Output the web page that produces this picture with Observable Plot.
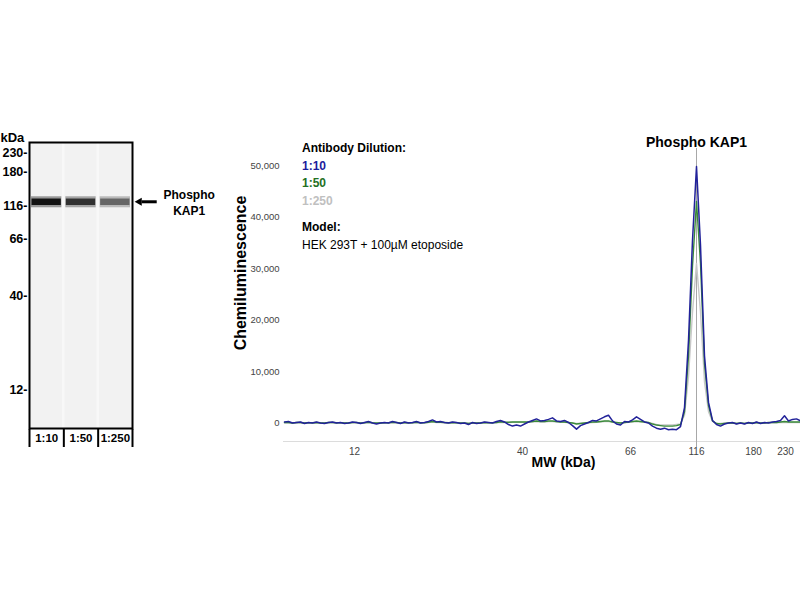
<!DOCTYPE html>
<html><head><meta charset="utf-8">
<script src="https://cdn.jsdelivr.net/npm/d3@7"></script>
<script src="https://cdn.jsdelivr.net/npm/@observablehq/plot@0.6"></script>
<style>
html,body{margin:0;padding:0;background:#fff;}
#root{position:relative;width:800px;height:600px;overflow:hidden;font-family:"Liberation Sans",Arial,sans-serif;}
#root > *{position:absolute;}
#legend{left:302px;top:140px;font-size:12px;line-height:17.7px;white-space:nowrap;color:#000;}
#legend .b{font-weight:bold;}
</style></head><body><div id="root"></div>
<script>
// ---------- data ----------
const target = "Phospho KAP1";
const dilutions = ["1:10", "1:50", "1:250"];
const peakSignal = [49800, 43000, 31000];          // peak heights per dilution
const gelMarkers = [230, 180, 116, 66, 40, 12];    // kDa marker labels (blot)
const bandMW = 123;                                // band apparent MW (kDa)
const ladderMW = [12, 40, 66, 116, 180, 230];      // MW axis ladder
const ladderPos = [17.5, 59.5, 86.5, 103, 117.25, 125.25]; // ladder position along capillary (sample units)
const yTicks = [0, 10000, 20000, 30000, 40000, 50000];
const modelText = "HEK 293T + 100µM etoposide";

const blue = [
  200,300,0,100,200,-100,100,0,200,0,
  -100,100,200,0,100,-100,0,200,100,-100,
  100,300,0,-200,0,100,0,300,100,-100,
  200,0,100,300,0,100,300,600,200,300,
  100,0,200,100,-100,0,-300,100,-100,0,
  200,100,0,300,500,200,-300,-600,-400,-600,
  -200,200,500,800,400,500,700,1000,400,300,
  500,100,-500,-1200,-500,-200,100,500,400,800,
  1200,1500,400,-200,-400,300,200,600,1200,700,
  200,0,-600,-1000,-1200,-1000,-1300,-1200,-1300,-700,
  3000,16000,35500,49800,34500,13000,4000,500,-300,-600,
  -200,0,100,-200,0,-200,100,-100,200,-100,
  100,0,200,300,500,1400,400,700,800,400
];
const green = [
  100,100,0,100,100,0,50,50,100,0,
  0,100,100,50,50,0,0,100,100,0,
  50,150,50,0,0,50,50,150,100,0,
  100,50,50,150,50,50,150,300,150,150,
  100,50,100,50,0,0,-100,0,0,0,
  100,50,50,100,250,150,150,200,200,200,
  200,200,300,400,300,300,400,400,300,200,
  200,100,0,-200,-100,0,100,200,200,300,
  400,400,200,100,0,100,200,300,400,300,
  200,100,-200,-400,-500,-600,-600,-600,-500,-300,
  2200,13000,30500,43000,31000,11500,3400,400,-100,-200,
  -100,0,0,-100,0,-100,0,0,100,0,
  0,100,100,100,200,300,200,200,200,200
];
const gray = [
  0,50,0,50,0,0,50,0,50,0,
  0,50,50,0,0,0,0,50,50,0,
  0,100,0,0,0,0,50,100,50,0,
  50,0,0,100,0,50,100,200,100,100,
  50,0,50,0,0,0,-50,0,0,0,
  50,0,50,50,150,100,100,150,150,150,
  150,150,200,300,200,200,300,300,200,150,
  150,50,0,-100,-50,0,50,100,150,200,
  300,300,150,50,0,50,150,200,300,200,
  150,50,-100,-300,-400,-400,-400,-400,-300,-200,
  1500,9000,21500,31000,21500,8000,2200,300,-100,-100,
  0,0,0,-50,0,-50,0,0,50,0,
  0,50,50,50,100,150,100,100,100,100
];

// ---------- styles ----------
const seriesColors = ["#22229a", "#3a8a3a", "#c8c8c8"];
const labelColors = ["#1c1c9c", "#237023", "#c0c0c0"];
const font = "'Liberation Sans', Arial, sans-serif";
const narrow = "'Liberation Sans Narrow', 'Arial Narrow', 'Liberation Sans', sans-serif";
const root = document.getElementById("root");
const place = (el, left, top) => { el.style.left = left + "px"; el.style.top = top + "px"; root.appendChild(el); };

// ---------- blot ----------
const gel = Plot.plot({
  width: 230, height: 430,
  marginLeft: 29, marginRight: 98, marginTop: 142, marginBottom: 2,
  style: {background: "transparent", fontFamily: font, overflow: "visible"},
  x: {domain: [0, 3], axis: null},
  y: {type: "linear", domain: [8, 12, 40, 66, 116, 180, 230, 260], range: [428, 389, 295, 238, 205, 171, 152, 142], axis: null},
  color: {type: "linear", domain: [0, 50000], range: ["#eeeeee", "#121212"]},
  marks: [
    Plot.frame({fill: "#f8f8f8", stroke: "none"}),
    Plot.rect(dilutions, {x1: (d, i) => i, x2: (d, i) => i + 1, y1: () => 8, y2: () => 260, insetLeft: 1.2, insetRight: 1.2, fill: "#f2f2f2"}),
    Plot.ruleY(dilutions, {y: () => bandMW, x1: (d, i) => i, x2: (d, i) => i + 1, insetLeft: 2, insetRight: 2, stroke: (d, i) => peakSignal[i], strokeWidth: 11, strokeOpacity: 0.4}),
    Plot.ruleY(dilutions, {y: () => bandMW, x1: (d, i) => i, x2: (d, i) => i + 1, insetLeft: 2.5, insetRight: 2.5, stroke: (d, i) => peakSignal[i], strokeWidth: 6.5}),
    Plot.frame({stroke: "#000", strokeWidth: 2}),
    Plot.axisY({ticks: gelMarkers, tickFormat: d => d + "-", tickSize: 0, tickPadding: 2, fontSize: 12.5, fontWeight: "bold", fill: "#000", label: null}),
    Plot.text(["kDa"], {frameAnchor: "top-left", dx: -29, dy: -10, textAnchor: "start", fontSize: 13, fontWeight: "bold", fill: "#000"}),
    Plot.ruleY([bandMW], {x1: () => 3.28, x2: () => 3.72, strokeWidth: 3, stroke: "#000"}),
    Plot.dot([bandMW], {x: () => 3.2, y: d => d, symbol: "triangle2", r: 3.9, rotate: -90, fill: "#000", stroke: "none"}),
    Plot.text([target], {x: () => 4.65, y: () => bandMW, text: d => d.replace(" ", "\n"), lineHeight: 1.35, fontSize: 12, fontWeight: "bold", fill: "#000"})
  ]
});
place(gel, 0, 0);

const laneRow = Plot.plot({
  width: 230, height: 18,
  marginLeft: 29, marginRight: 98, marginTop: 0, marginBottom: 0,
  style: {background: "transparent", fontFamily: font, overflow: "visible"},
  x: {domain: [0, 3], axis: null},
  marks: [
    Plot.ruleX([0, 1, 2, 3], {stroke: "#000", strokeWidth: 2}),
    Plot.text(dilutions, {x: (d, i) => i + 0.5, frameAnchor: "middle", text: d => d, fontSize: 11.5, fontWeight: "bold", fill: "#000"})
  ]
});
place(laneRow, 0, 429);

// ---------- electropherogram ----------
const yDomain = [-3592, 53300];
const mwAt = new Map(ladderPos.map((p, i) => [p, ladderMW[i]]));
const series = [gray, green, blue];
const seriesCol = [seriesColors[2], seriesColors[1], seriesColors[0]];
const chart = Plot.plot({
  width: 575, height: 360,
  marginLeft: 58, marginRight: 0, marginTop: 28, marginBottom: 39,
  style: {background: "transparent", fontFamily: font, overflow: "visible"},
  x: {domain: [-0.25, 129], axis: null},
  y: {domain: yDomain, axis: null},
  marks: [
    Plot.ruleY([yDomain[0]], {stroke: "#dcdcdc"}),
    Plot.axisY({ticks: yTicks, tickFormat: d3.format(","), tickSize: 0, tickPadding: 4, fontSize: 9.5, fill: "#444", fontFamily: narrow, label: null}),
    Plot.axisX({ticks: ladderPos, tickFormat: d => mwAt.get(d), tickSize: 0, tickPadding: 6, fontSize: 10, fill: "#444", fontFamily: narrow, label: null}),
    Plot.ruleX([ladderPos[3]], {stroke: "#a8a8a8", strokeWidth: 1, insetBottom: -6}),
    ...series.map((s, k) => Plot.line(s, {x: (d, i) => i, y: d => d, stroke: seriesCol[k], strokeWidth: k === 2 ? 1.5 : 1.4})),
    Plot.text([target], {x: () => ladderPos[3], frameAnchor: "top", dy: -11, fontSize: 14, fontWeight: "bold", fill: "#000"}),
    Plot.text(["MW (kDa)"], {frameAnchor: "bottom", dx: 21.5, dy: 25, fontSize: 14, fontWeight: "bold", fill: "#000"}),
    Plot.text(["Chemiluminescence"], {frameAnchor: "left", textAnchor: "middle", dx: -43, dy: -22, rotate: -90, fontSize: 16, fontWeight: "bold", fill: "#000"})
  ]
});
place(chart, 225, 120);

// ---------- legend ----------
const legend = document.createElement("div");
legend.id = "legend";
let html = '<div class="b">Antibody Dilution:</div>';
dilutions.forEach((d, i) => { html += `<div class="b" style="color:${labelColors[i]}">${d}</div>`; });
html += '<div class="b" style="margin-top:8px">Model:</div>';
html += `<div>${modelText}</div>`;
legend.innerHTML = html;
place(legend, 302, 140);
</script></body></html>
